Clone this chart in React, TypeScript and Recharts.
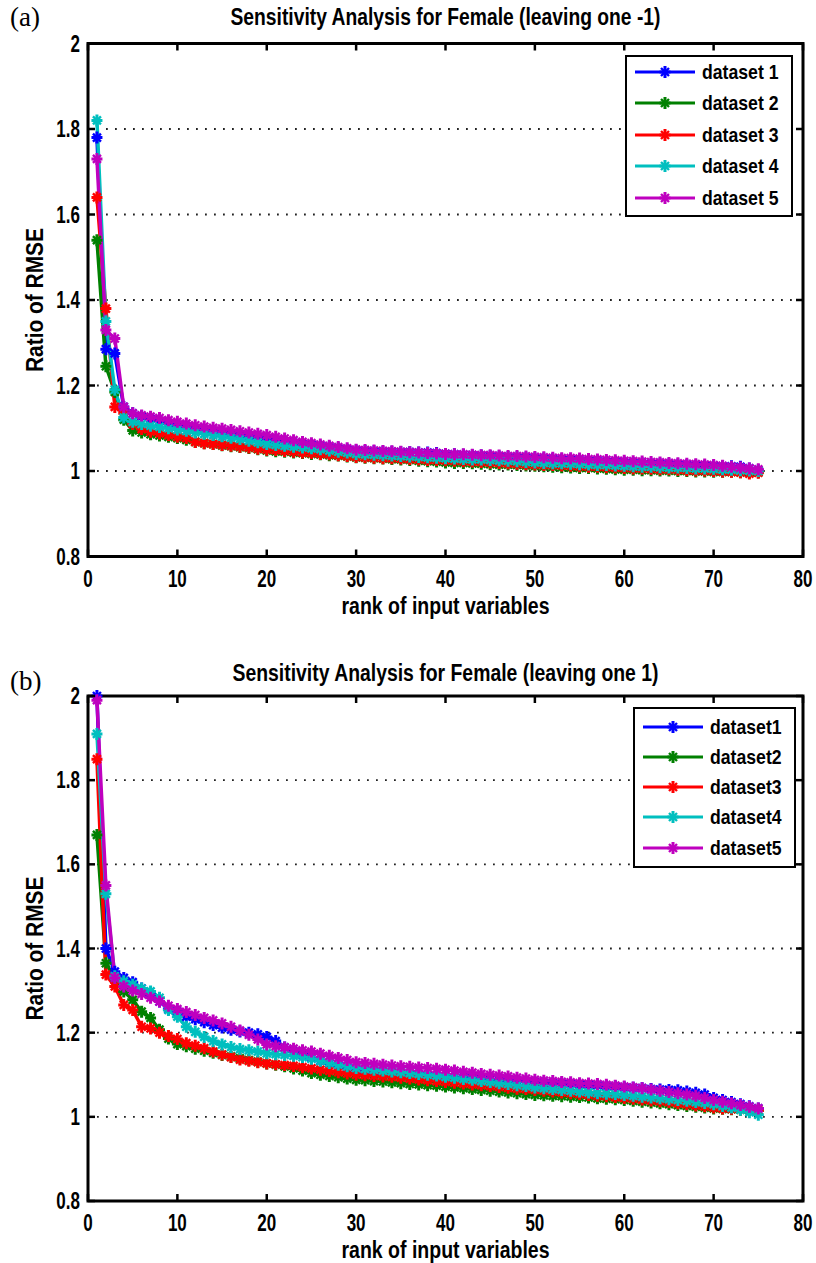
import { LineChart, Line, XAxis, YAxis, CartesianGrid, ReferenceArea } from 'recharts';

// rank of input variables, shared by both panels
const RANKS = Array.from({ length: 75 }, (_, i) => i + 1);
const X_TICKS = [0, 10, 20, 30, 40, 50, 60, 70, 80];
const Y_TICKS = [0.8, 1, 1.2, 1.4, 1.6, 1.8, 2];

const COLORS = ['#0000ff', '#008000', '#ff0000', '#00bfbf', '#bf00bf'];

// (a) leaving one -1
const A_SET1 = [
  1.780, 1.285, 1.275, 1.150, 1.135, 1.128, 1.122, 1.117, 1.112, 1.106,
  1.102, 1.099, 1.095, 1.092, 1.089, 1.086, 1.083, 1.080, 1.078, 1.075,
  1.072, 1.069, 1.066, 1.063, 1.061, 1.058, 1.056, 1.053, 1.050, 1.048,
  1.047, 1.046, 1.045, 1.045, 1.044, 1.044, 1.043, 1.043, 1.042, 1.040,
  1.039, 1.038, 1.037, 1.036, 1.035, 1.034, 1.033, 1.032, 1.031, 1.030,
  1.029, 1.028, 1.027, 1.026, 1.025, 1.024, 1.023, 1.022, 1.021, 1.020,
  1.019, 1.018, 1.017, 1.017, 1.016, 1.015, 1.014, 1.013, 1.012, 1.012,
  1.011, 1.011, 1.010, 1.006, 1.002,
];
const A_SET2 = [
  1.540, 1.245, 1.185, 1.120, 1.095, 1.090, 1.086, 1.083, 1.080, 1.077,
  1.073, 1.068, 1.065, 1.063, 1.060, 1.058, 1.056, 1.054, 1.051, 1.048,
  1.046, 1.045, 1.043, 1.042, 1.040, 1.039, 1.037, 1.036, 1.034, 1.032,
  1.031, 1.030, 1.029, 1.028, 1.027, 1.026, 1.024, 1.023, 1.022, 1.020,
  1.019, 1.019, 1.018, 1.017, 1.016, 1.015, 1.015, 1.014, 1.013, 1.012,
  1.011, 1.010, 1.009, 1.008, 1.007, 1.007, 1.006, 1.005, 1.004, 1.003,
  1.003, 1.002, 1.002, 1.001, 1.001, 1.000, 1.000, 0.999, 0.999, 0.998,
  0.998, 0.998, 0.997, 0.997, 0.997,
];
const A_SET3 = [
  1.640, 1.380, 1.150, 1.135, 1.110, 1.098, 1.092, 1.088, 1.084, 1.080,
  1.077, 1.068, 1.065, 1.063, 1.061, 1.059, 1.057, 1.055, 1.052, 1.050,
  1.049, 1.047, 1.045, 1.043, 1.042, 1.040, 1.039, 1.037, 1.035, 1.033,
  1.032, 1.031, 1.030, 1.030, 1.029, 1.028, 1.027, 1.026, 1.026, 1.025,
  1.024, 1.023, 1.022, 1.021, 1.020, 1.019, 1.018, 1.017, 1.016, 1.015,
  1.014, 1.014, 1.013, 1.012, 1.011, 1.010, 1.010, 1.009, 1.008, 1.007,
  1.006, 1.006, 1.005, 1.004, 1.004, 1.003, 1.002, 1.001, 1.001, 1.000,
  0.999, 0.998, 0.997, 0.994, 0.996,
];
const A_SET4 = [
  1.820, 1.350, 1.190, 1.125, 1.115, 1.110, 1.106, 1.103, 1.100, 1.097,
  1.094, 1.090, 1.087, 1.084, 1.081, 1.078, 1.075, 1.071, 1.067, 1.063,
  1.061, 1.059, 1.057, 1.055, 1.053, 1.051, 1.048, 1.045, 1.043, 1.040,
  1.039, 1.038, 1.037, 1.036, 1.035, 1.034, 1.033, 1.032, 1.031, 1.030,
  1.029, 1.028, 1.027, 1.027, 1.026, 1.025, 1.024, 1.023, 1.021, 1.020,
  1.019, 1.018, 1.018, 1.017, 1.016, 1.015, 1.014, 1.014, 1.013, 1.012,
  1.011, 1.010, 1.010, 1.009, 1.008, 1.008, 1.007, 1.006, 1.006, 1.005,
  1.004, 1.003, 1.002, 1.001, 1.000,
];
const A_SET5 = [
  1.730, 1.330, 1.310, 1.150, 1.135, 1.130, 1.127, 1.124, 1.119, 1.115,
  1.111, 1.107, 1.104, 1.101, 1.099, 1.096, 1.093, 1.090, 1.087, 1.084,
  1.080, 1.076, 1.072, 1.068, 1.065, 1.062, 1.059, 1.056, 1.053, 1.050,
  1.049, 1.048, 1.047, 1.046, 1.045, 1.044, 1.043, 1.042, 1.041, 1.040,
  1.039, 1.039, 1.038, 1.037, 1.037, 1.036, 1.035, 1.035, 1.034, 1.033,
  1.032, 1.031, 1.030, 1.030, 1.029, 1.028, 1.027, 1.026, 1.025, 1.024,
  1.023, 1.022, 1.021, 1.020, 1.019, 1.018, 1.017, 1.016, 1.015, 1.014,
  1.012, 1.010, 1.008, 1.006, 1.004,
];

// (b) leaving one 1
const B_SET1 = [
  2.000, 1.400, 1.345, 1.330, 1.320, 1.305, 1.290, 1.274, 1.256, 1.250,
  1.238, 1.232, 1.225, 1.218, 1.212, 1.207, 1.203, 1.200, 1.196, 1.190,
  1.180, 1.165, 1.155, 1.148, 1.140, 1.133, 1.127, 1.122, 1.117, 1.112,
  1.110, 1.108, 1.106, 1.104, 1.103, 1.101, 1.100, 1.098, 1.097, 1.095,
  1.094, 1.093, 1.092, 1.090, 1.089, 1.088, 1.087, 1.085, 1.084, 1.082,
  1.081, 1.080, 1.079, 1.078, 1.077, 1.076, 1.075, 1.073, 1.072, 1.070,
  1.069, 1.068, 1.066, 1.065, 1.064, 1.063, 1.060, 1.057, 1.053, 1.045,
  1.040, 1.035, 1.030, 1.025, 1.020,
];
const B_SET2 = [
  1.670, 1.365, 1.330, 1.298, 1.278, 1.250, 1.235, 1.207, 1.186, 1.173,
  1.168, 1.162, 1.157, 1.152, 1.147, 1.143, 1.139, 1.135, 1.131, 1.127,
  1.124, 1.120, 1.115, 1.110, 1.104, 1.100, 1.097, 1.094, 1.091, 1.088,
  1.087, 1.085, 1.084, 1.082, 1.080, 1.078, 1.077, 1.075, 1.074, 1.072,
  1.070, 1.068, 1.066, 1.064, 1.062, 1.060, 1.058, 1.056, 1.054, 1.052,
  1.051, 1.050, 1.049, 1.048, 1.047, 1.046, 1.044, 1.043, 1.042, 1.040,
  1.038, 1.036, 1.034, 1.032, 1.030, 1.028, 1.026, 1.024, 1.022, 1.020,
  1.019, 1.018, 1.017, 1.016, 1.015,
];
const B_SET3 = [
  1.850, 1.338, 1.310, 1.266, 1.254, 1.214, 1.210, 1.200, 1.192, 1.185,
  1.175, 1.169, 1.163, 1.155, 1.148, 1.142, 1.136, 1.133, 1.130, 1.127,
  1.125, 1.123, 1.121, 1.118, 1.115, 1.112, 1.109, 1.106, 1.103, 1.100,
  1.099, 1.097, 1.096, 1.095, 1.093, 1.091, 1.089, 1.087, 1.085, 1.083,
  1.081, 1.079, 1.077, 1.075, 1.073, 1.071, 1.069, 1.067, 1.066, 1.064,
  1.062, 1.060, 1.058, 1.056, 1.054, 1.052, 1.050, 1.049, 1.047, 1.045,
  1.043, 1.041, 1.039, 1.037, 1.035, 1.032, 1.030, 1.027, 1.025, 1.022,
  1.020, 1.019, 1.018, 1.017, 1.015,
];
const B_SET4 = [
  1.910, 1.530, 1.334, 1.322, 1.314, 1.305, 1.298, 1.283, 1.254, 1.238,
  1.214, 1.202, 1.190, 1.180, 1.172, 1.166, 1.161, 1.158, 1.155, 1.151,
  1.149, 1.147, 1.145, 1.142, 1.138, 1.133, 1.128, 1.124, 1.120, 1.116,
  1.114, 1.112, 1.110, 1.108, 1.106, 1.104, 1.102, 1.100, 1.098, 1.095,
  1.093, 1.090, 1.088, 1.085, 1.083, 1.080, 1.078, 1.075, 1.073, 1.070,
  1.068, 1.066, 1.064, 1.062, 1.060, 1.058, 1.056, 1.055, 1.054, 1.052,
  1.050, 1.048, 1.046, 1.044, 1.042, 1.040, 1.038, 1.035, 1.033, 1.030,
  1.026, 1.022, 1.017, 1.011, 1.005,
];
const B_SET5 = [
  1.990, 1.550, 1.330, 1.310, 1.300, 1.292, 1.283, 1.274, 1.264, 1.256,
  1.249, 1.242, 1.235, 1.229, 1.222, 1.214, 1.205, 1.195, 1.184, 1.172,
  1.168, 1.165, 1.162, 1.158, 1.155, 1.150, 1.145, 1.140, 1.135, 1.130,
  1.128, 1.126, 1.124, 1.122, 1.120, 1.119, 1.117, 1.116, 1.114, 1.112,
  1.110, 1.107, 1.105, 1.102, 1.100, 1.098, 1.096, 1.093, 1.091, 1.088,
  1.086, 1.085, 1.083, 1.082, 1.080, 1.079, 1.078, 1.076, 1.074, 1.072,
  1.070, 1.068, 1.065, 1.062, 1.059, 1.056, 1.053, 1.050, 1.045, 1.040,
  1.036, 1.032, 1.028, 1.024, 1.020,
];

const SANS = "'Liberation Sans', Arial, sans-serif";
const PLOT_LEFT = 88;
const PLOT_RIGHT = 803;
const Y_AXIS_W = 60;
const X_AXIS_H = 30;
// text is squeezed horizontally to get the tall, narrow look
const SQUEEZE = 0.74;
const FONT_SIZE = 23;

interface PanelSpec {
  tag: string;
  title: string;
  titleWidth: number;
  names: string[];
  sets: number[][];
  top: number;
  height: number;
  plotTop: number;
  plotBottom: number;
  titleY: number;
  tagY: number;
  xLabelY: number;
  legend: { left: number; top: number; width: number; height: number; first: number; step: number; lineX: number; textX: number };
}

const PANELS: PanelSpec[] = [
  {
    tag: '(a)',
    title: 'Sensitivity Analysis for Female (leaving one -1)',
    titleWidth: 430,
    names: ['dataset 1', 'dataset 2', 'dataset 3', 'dataset 4', 'dataset 5'],
    sets: [A_SET1, A_SET2, A_SET3, A_SET4, A_SET5],
    top: 0,
    height: 630,
    plotTop: 43.5,
    plotBottom: 556.5,
    titleY: 25,
    tagY: 26,
    xLabelY: 614,
    legend: { left: 625, top: 55, width: 168, height: 162, first: 17, step: 31.5, lineX: 10, textX: 77 },
  },
  {
    tag: '(b)',
    title: 'Sensitivity Analysis for Female (leaving one 1)',
    titleWidth: 426,
    names: ['dataset1', 'dataset2', 'dataset3', 'dataset4', 'dataset5'],
    sets: [B_SET1, B_SET2, B_SET3, B_SET4, B_SET5],
    top: 630,
    height: 633,
    plotTop: 66,
    plotBottom: 571,
    titleY: 51,
    tagY: 60,
    xLabelY: 628,
    legend: { left: 633, top: 77, width: 163, height: 161, first: 20, step: 30.3, lineX: 10, textX: 77 },
  },
];

// MATLAB-style '*' marker: a plus over an x
const Star = ({ cx, cy, color }: { cx: number; cy: number; color: string }) => {
  if (cx == null || cy == null) return null;
  return (
    <g>
      <path d={`M${cx - 5.5},${cy}H${cx + 5.5}M${cx},${cy - 6}V${cy + 6}`} stroke={color} strokeWidth={3} />
      <path
        d={`M${cx - 4},${cy - 4}L${cx + 4},${cy + 4}M${cx - 4},${cy + 4}L${cx + 4},${cy - 4}`}
        stroke={color}
        strokeWidth={2.4}
      />
    </g>
  );
};

function Legend({ spec }: { spec: PanelSpec }) {
  const lg = spec.legend;
  return (
    <div style={{
      position: 'absolute', left: lg.left, top: lg.top, width: lg.width, height: lg.height,
      border: '2.5px solid #000', background: '#fff', boxSizing: 'border-box',
    }}>
      {spec.names.map((name, i) => {
        const cy = lg.first + i * lg.step - 2.5;
        return (
          <div key={name} style={{ position: 'absolute', left: 0, top: cy - 12, width: '100%', height: 24 }}>
            <svg width={70} height={24} style={{ position: 'absolute', left: lg.lineX - 2.5, top: 0 }}>
              <line x1={0} x2={60} y1={12} y2={12} stroke={COLORS[i]} strokeWidth={3} />
              <Star cx={30} cy={12} color={COLORS[i]} />
            </svg>
            <span style={{
              position: 'absolute', left: lg.textX - 2.5, top: 0, lineHeight: '24px',
              fontFamily: SANS, fontWeight: 'bold', fontSize: 21, color: '#000', whiteSpace: 'nowrap',
              display: 'inline-block', transform: 'scaleX(0.84)', transformOrigin: 'left center',
            }}>
              {name}
            </span>
          </div>
        );
      })}
    </div>
  );
}

function Panel({ spec }: { spec: PanelSpec }) {
  const rows = RANKS.map((rank, i) => ({
    rank,
    s1: spec.sets[0][i],
    s2: spec.sets[1][i],
    s3: spec.sets[2][i],
    s4: spec.sets[3][i],
    s5: spec.sets[4][i],
  }));

  const xTick = (props: any) => {
    const { x, payload } = props;
    return (
      <g>
        <line x1={x} x2={x} y1={spec.plotBottom} y2={spec.plotBottom - 7} stroke="#000" strokeWidth={2.5} />
        <line x1={x} x2={x} y1={spec.plotTop} y2={spec.plotTop + 7} stroke="#000" strokeWidth={2.5} />
        <g transform={`translate(${x} ${spec.plotBottom + 30}) scale(${SQUEEZE} 1)`}>
          <text x={0} y={0} textAnchor="middle" fontFamily={SANS} fontWeight="bold" fontSize={FONT_SIZE} fill="#000">
            {payload.value}
          </text>
        </g>
      </g>
    );
  };

  const yTick = (props: any) => {
    const { y, payload } = props;
    return (
      <g>
        <line x1={PLOT_LEFT} x2={PLOT_LEFT + 7} y1={y} y2={y} stroke="#000" strokeWidth={2.5} />
        <line x1={PLOT_RIGHT} x2={PLOT_RIGHT - 7} y1={y} y2={y} stroke="#000" strokeWidth={2.5} />
        <g transform={`translate(${PLOT_LEFT - 8} ${y + 8}) scale(${SQUEEZE} 1)`}>
          <text x={0} y={0} textAnchor="end" fontFamily={SANS} fontWeight="bold" fontSize={FONT_SIZE} fill="#000">
            {payload.value}
          </text>
        </g>
      </g>
    );
  };

  const keys = ['s1', 's2', 's3', 's4', 's5'];
  const midX = (PLOT_LEFT + PLOT_RIGHT) / 2;
  const midY = (spec.plotTop + spec.plotBottom) / 2;

  return (
    <div style={{ position: 'absolute', left: 0, top: spec.top, width: 816, height: spec.height }}>
      <LineChart
        width={816}
        height={spec.height}
        data={rows}
        margin={{
          top: spec.plotTop,
          right: 816 - PLOT_RIGHT,
          bottom: spec.height - spec.plotBottom - X_AXIS_H,
          left: PLOT_LEFT - Y_AXIS_W,
        }}
      >
        <CartesianGrid vertical={false} stroke="#222" strokeWidth={1.8} strokeDasharray="1.8 7.2" />
        <XAxis
          dataKey="rank"
          type="number"
          domain={[0, 80]}
          ticks={X_TICKS}
          height={X_AXIS_H}
          axisLine={false}
          tickLine={false}
          tick={xTick}
          interval={0}
        />
        <YAxis
          type="number"
          domain={[0.8, 2]}
          ticks={Y_TICKS}
          width={Y_AXIS_W}
          axisLine={false}
          tickLine={false}
          tick={yTick}
          interval={0}
        />
        <ReferenceArea x1={0} x2={80} y1={0.8} y2={2} fill="none" fillOpacity={0} stroke="#000" strokeWidth={3} />
        {keys.map((k, i) => (
          <Line
            key={k}
            dataKey={k}
            type="linear"
            stroke={COLORS[i]}
            strokeWidth={3.5}
            isAnimationActive={false}
            dot={(p: any) => <Star key={`${k}-${p.index}`} cx={p.cx} cy={p.cy} color={COLORS[i]} />}
            activeDot={false}
          />
        ))}
      </LineChart>
      <svg width={816} height={spec.height} style={{ position: 'absolute', left: 0, top: 0, pointerEvents: 'none' }}>
        <text x={10} y={spec.tagY} fontFamily="'Liberation Serif', 'Times New Roman', serif" fontSize={27} fill="#000">
          {spec.tag}
        </text>
        <text
          x={midX}
          y={spec.titleY}
          textAnchor="middle"
          textLength={spec.titleWidth}
          lengthAdjust="spacingAndGlyphs"
          fontFamily={SANS}
          fontWeight="bold"
          fontSize={FONT_SIZE}
          fill="#000"
        >
          {spec.title}
        </text>
        <text
          x={midX}
          y={spec.xLabelY}
          textAnchor="middle"
          textLength={208}
          lengthAdjust="spacingAndGlyphs"
          fontFamily={SANS}
          fontWeight="bold"
          fontSize={FONT_SIZE}
          fill="#000"
        >
          rank of input variables
        </text>
        <text
          x={35}
          y={midY}
          textAnchor="middle"
          dominantBaseline="central"
          transform={`rotate(-90 35 ${midY})`}
          textLength={144}
          lengthAdjust="spacingAndGlyphs"
          fontFamily={SANS}
          fontWeight="bold"
          fontSize={FONT_SIZE}
          fill="#000"
        >
          Ratio of RMSE
        </text>
      </svg>
      <Legend spec={spec} />
    </div>
  );
}

export default function App() {
  return (
    <div style={{ position: 'absolute', left: 0, top: 0, width: 816, height: 1263, background: '#fff' }}>
      {PANELS.map((p) => (
        <Panel key={p.tag} spec={p} />
      ))}
    </div>
  );
}
